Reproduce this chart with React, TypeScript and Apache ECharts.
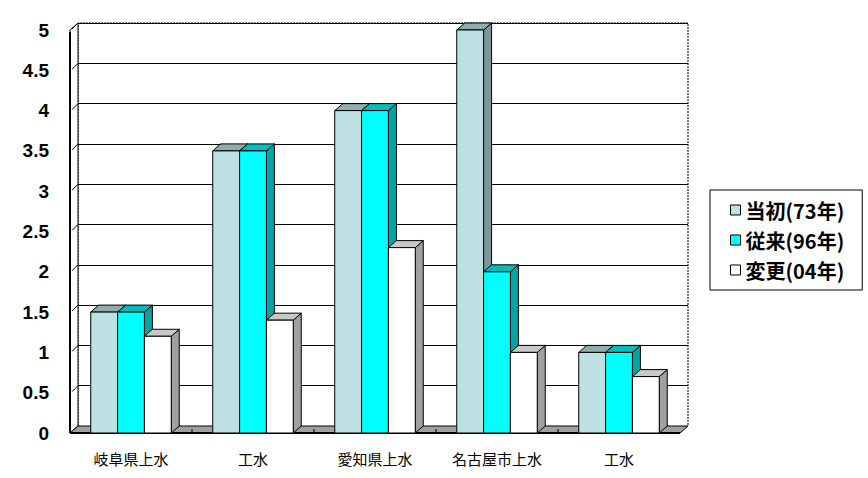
import React, { useEffect, useRef } from "react";
import * as echarts from "echarts";

const categories = ["岐阜県上水", "工水", "愛知県上水", "名古屋市上水", "工水"];
const seriesNames = ["当初(73年)", "従来(96年)", "変更(04年)"];
const initialValues = [1.5, 3.5, 4, 5, 1];
const previousValues = [1.5, 3.5, 4, 2, 1];
const revisedValues = [1.2, 1.4, 2.3, 1, 0.7];
const yTicks = [0, 0.5, 1, 1.5, 2, 2.5, 3, 3.5, 4, 4.5, 5];

const faceColors = [
  { front: "#BDE0E3", top: "#91ACAC", side: "#7B9798" },
  { front: "#00FFFF", top: "#00BCBC", side: "#00A6A6" },
  { front: "#FFFFFF", top: "#C8C8C8", side: "#A0A0A0" },
];

const DX = 8;
const DY = 7;

export default function App() {
  const ref = useRef<HTMLDivElement>(null);
  useEffect(() => {
    if (!ref.current) return;
    const chart = echarts.init(ref.current, null, { renderer: "svg" });
    const allValues = [initialValues, previousValues, revisedValues];

    const barSeries = allValues.map((vals, k) => ({
      type: "custom",
      name: seriesNames[k],
      xAxisIndex: 0,
      yAxisIndex: 0,
      z: 3,
      itemStyle: { color: faceColors[k].front, borderColor: "#000", borderWidth: 1 },
      encode: { x: 0, y: 1 },
      data: vals.map((v, i) => [i, v]),
      renderItem: (params: any, api: any) => {
        const idx = api.value(0);
        const base = api.coord([idx, 0]);
        const top = api.coord([idx, api.value(1)]);
        const band = api.size([1, 0])[0];
        const w = band * 0.22;
        const x = base[0] - 1.5 * w + k * w;
        const y0 = base[1];
        const y1 = top[1];
        const c = faceColors[k];
        return {
          type: "group",
          children: [
            {
              type: "polygon",
              shape: { points: [[x + w, y1], [x + w + DX, y1 - DY], [x + w + DX, y0 - DY], [x + w, y0]] },
              style: { fill: c.side, stroke: "#000", lineWidth: 1 },
            },
            {
              type: "polygon",
              shape: { points: [[x, y1], [x + DX, y1 - DY], [x + w + DX, y1 - DY], [x + w, y1]] },
              style: { fill: c.top, stroke: "#000", lineWidth: 1 },
            },
            {
              type: "rect",
              shape: { x, y: y1, width: w, height: y0 - y1 },
              style: { fill: c.front, stroke: "#000", lineWidth: 1 },
            },
          ],
        };
      },
    }));

    const decoSeries = {
      type: "custom",
      name: "deco",
      xAxisIndex: 0,
      yAxisIndex: 0,
      z: 1,
      silent: true,
      data: [[0, 0]],
      encode: { x: 0, y: 1 },
      renderItem: (params: any, api: any) => {
        const cs = params.coordSys;
        const left = cs.x;
        const right = cs.x + cs.width;
        const topY = cs.y;
        const bottom = cs.y + cs.height;
        const band = api.size([1, 0])[0];
        const children: any[] = [];
        children.push({
          type: "polyline",
          shape: { points: [[left + DX, bottom - DY], [left + DX, topY - DY], [right + DX, topY - DY], [right + DX, bottom - DY]] },
          style: { fill: null, stroke: "#000", lineWidth: 1, lineDash: [2, 1] },
        });
        children.push({
          type: "polygon",
          shape: { points: [[left, bottom], [left, topY], [left + DX, topY - DY], [left + DX, bottom - DY]] },
          style: { fill: "#fff", stroke: "#000", lineWidth: 1 },
        });
        children.push({
          type: "line",
          shape: { x1: left, y1: topY + 2, x2: left, y2: bottom },
          style: { stroke: "#000", lineWidth: 2 },
        });
        yTicks.forEach((t) => {
          const p = api.coord([0, t]);
          children.push({
            type: "line",
            shape: { x1: left + DX, y1: p[1] - DY, x2: left + 2, y2: p[1] - 1 },
            style: { stroke: "#000", lineWidth: 1 },
          });
        });
        children.push({
          type: "polygon",
          shape: { points: [[left, bottom], [left + DX, bottom - DY], [right + DX, bottom - DY], [right, bottom]] },
          style: { fill: "#A0A0A0", stroke: "#000", lineWidth: 1 },
        });
        for (let i = 1; i < categories.length; i++) {
          const bx = left + band * i;
          children.push({
            type: "line",
            shape: { x1: bx, y1: bottom, x2: bx, y2: bottom - 4 },
            style: { stroke: "#000", lineWidth: 1 },
          });
        }
        children.push({
          type: "line",
          shape: { x1: left, y1: bottom, x2: right, y2: bottom },
          style: { stroke: "#000", lineWidth: 2 },
        });
        return { type: "group", children };
      },
    };

    chart.setOption({
      animation: false,
      backgroundColor: "#fff",
      grid: [
        { left: 70, right: 188, top: 30, bottom: 45 },
        { left: 78, right: 180, top: 23, bottom: 52 },
      ],
      xAxis: [
        {
          type: "category",
          gridIndex: 0,
          data: categories,
          axisLine: { show: false },
          axisTick: { show: false },
          axisLabel: {
            interval: 0,
            hideOverlap: false,
            margin: 18,
            fontSize: 15,
            color: "#000",
            fontFamily: "Noto Sans CJK JP",
          },
        },
        {
          type: "category",
          gridIndex: 1,
          data: categories,
          show: false,
        },
      ],
      yAxis: [
        {
          type: "value",
          gridIndex: 0,
          min: 0,
          max: 5,
          interval: 0.5,
          axisLine: { show: false },
          axisTick: { show: false },
          splitLine: { show: false },
          axisLabel: {
            margin: 21,
            fontSize: 19,
            fontWeight: "bold",
            color: "#000",
            fontFamily: "Liberation Sans, Arial, sans-serif",
          },
        },
        {
          type: "value",
          gridIndex: 1,
          min: 0,
          max: 5,
          interval: 0.5,
          axisLine: { show: false },
          axisTick: { show: false },
          axisLabel: { show: false },
          splitLine: { show: true, lineStyle: { color: "#000", width: 1 } },
        },
      ],
      legend: {
        orient: "vertical",
        left: 710,
        top: 190,
        padding: [10, 18, 10, 20],
        itemGap: 10,
        itemWidth: 10,
        itemHeight: 10,
        icon: "rect",
        backgroundColor: "#fff",
        borderColor: "#000",
        borderWidth: 1,
        textStyle: { fontSize: 20, lineHeight: 20, color: "#000", fontFamily: "Noto Sans CJK JP", fontWeight: "bold" },
        data: seriesNames.map((n, k) => ({
          name: n,
          itemStyle: { color: faceColors[k].front, borderColor: "#000", borderWidth: 1 },
        })),
      },
      series: [decoSeries, ...barSeries],
    } as any);
    return () => chart.dispose();
  }, []);
  return <div ref={ref} style={{ width: 868, height: 478, position: "absolute", left: 0, top: 0 }} />;
}
